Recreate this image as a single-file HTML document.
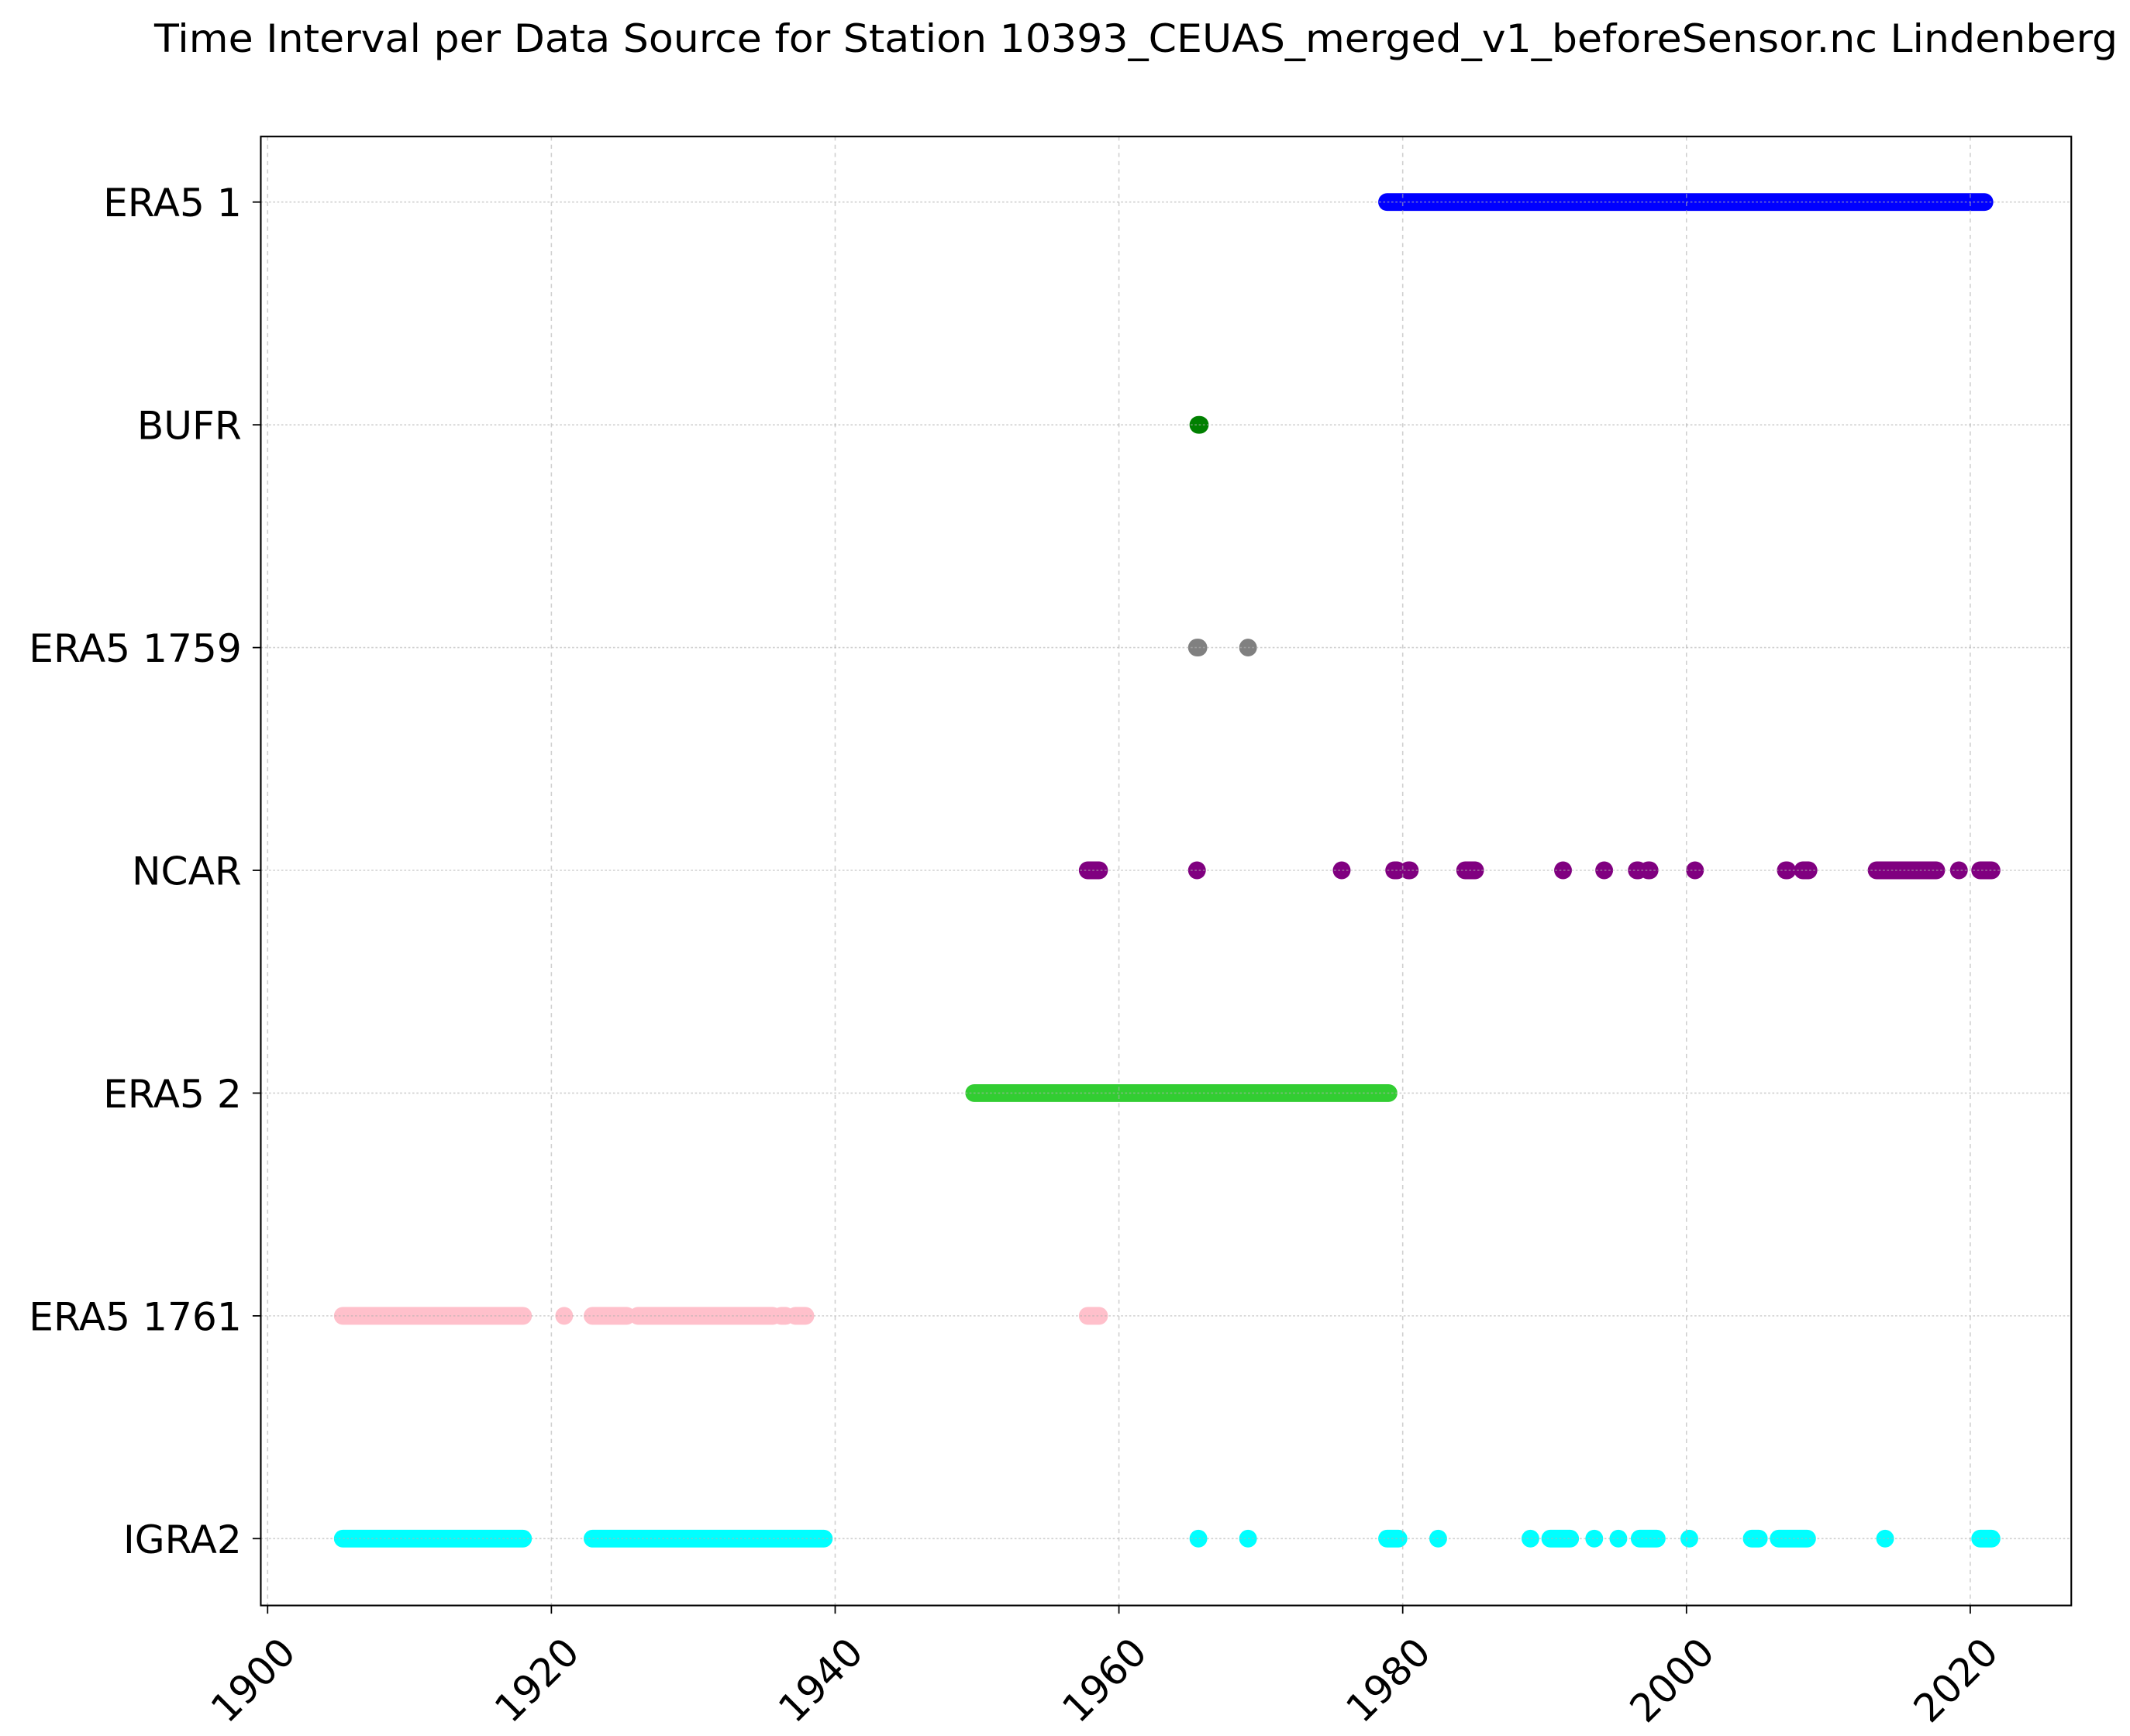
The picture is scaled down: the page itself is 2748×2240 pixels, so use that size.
<!DOCTYPE html>
<html><head><meta charset="utf-8"><style>
html,body{margin:0;padding:0;background:#fff;}
svg{display:block;font-family:"DejaVu Sans","Liberation Sans",sans-serif;}
</style></head><body>
<svg id="chart" width="2748" height="2240" viewBox="0 0 1560 1271.6" xmlns="http://www.w3.org/2000/svg">
<rect width="1560" height="1271.6" fill="#fff"/>
<text x="832" y="38" font-size="28.5" text-anchor="middle" fill="#000" textLength="1438" lengthAdjust="spacingAndGlyphs">Time Interval per Data Source for Station 10393_CEUAS_merged_v1_beforeSensor.nc Lindenberg</text>
<g id="marks"></g>
<g id="grid"></g>
<rect x="191" y="100" width="1326" height="1076" fill="none" stroke="#000" stroke-width="1.2"/>
<g id="axes"></g>
</svg>
<script>
const categories = ["ERA5 1","BUFR","ERA5 1759","NCAR","ERA5 2","ERA5 1761","IGRA2"];
const colors = ["#0000ff","#008000","#808080","#800080","#32cd32","#ffc0cb","#00ffff"];
const xTicks = [1900,1920,1940,1960,1980,2000,2020];
const era5_1 = [[1978.9,2021.0]];
const bufr = [[1965.6,1965.7]];
const era5_1759 = [[1965.5,1965.6],[1969.1,1969.1]];
const ncar = [[1957.8,1958.6],[1965.5,1965.5],[1975.7,1975.7],[1979.4,1979.6],[1980.4,1980.5],[1984.4,1985.1],[1991.3,1991.3],[1994.2,1994.2],[1996.5,1996.6],[1997.3,1997.4],[2000.6,2000.6],[2007.0,2007.1],[2008.2,2008.6],[2013.4,2017.6],[2019.2,2019.2],[2020.7,2021.5]];
const era5_2 = [[1949.8,1979.0]];
const era5_1761 = [[1905.3,1918.0],[1920.9,1920.9],[1922.9,1925.3],[1926.1,1935.6],[1936.2,1936.5],[1937.2,1937.9],[1957.8,1958.6]];
const igra2 = [[1905.3,1918.0],[1922.9,1939.2],[1965.6,1965.6],[1969.1,1969.1],[1978.9,1979.7],[1982.5,1982.5],[1989.0,1989.0],[1990.4,1991.8],[1993.5,1993.5],[1995.2,1995.2],[1996.7,1997.9],[2000.2,2000.2],[2004.6,2005.1],[2006.5,2008.5],[2014.0,2014.0],[2020.7,2021.5]];
const seriesData = [era5_1,bufr,era5_1759,ncar,era5_2,era5_1761,igra2];

const NS="http://www.w3.org/2000/svg";
function xScale(v){return 196 + (v-1900)*(1443-196)/120;}
function yScale(i){return 148 + i*163.17;}
function mk(tag,attrs,parent){const e=document.createElementNS(NS,tag);for(const k in attrs)e.setAttribute(k,attrs[k]);parent.appendChild(e);return e;}
const marks=document.getElementById('marks'),grid=document.getElementById('grid'),axes=document.getElementById('axes');
seriesData.forEach((segs,i)=>{
  const g=mk('g',{},marks);
  
  
  segs.forEach(s=>{
    const y=yScale(i);
    const l=mk('line',{x1:xScale(s[0]),x2:xScale(s[1]),y1:y,y2:y,stroke:colors[i],'stroke-width':13,'stroke-linecap':'round'},g);
    
    
  });
});
xTicks.forEach(t=>{
  const x=xScale(t);
  const gl=mk('line',{x1:x,x2:x,y1:100,y2:1176,stroke:'#b0b0b0','stroke-opacity':0.6,'stroke-width':0.9,'stroke-dasharray':'3 3'},grid);
  
  
  const tk=mk('line',{x1:x,x2:x,y1:1176,y2:1182,stroke:'#000','stroke-width':1},axes);
  
  
  const ax=x+22, ay=1212;
  const tx=mk('text',{x:ax,y:ay,'font-size':28.5,'text-anchor':'end',transform:`rotate(-45 ${ax} ${ay})`,fill:'#000'},axes);
  
  
  tx.textContent=t;
});
categories.forEach((c,i)=>{
  const y=yScale(i);
  const gl=mk('line',{x1:191,x2:1517,y1:y,y2:y,stroke:'#b0b0b0','stroke-opacity':0.6,'stroke-width':0.9,'stroke-dasharray':'1.5 1.5'},grid);
  
  
  const tk=mk('line',{x1:185,x2:191,y1:y,y2:y,stroke:'#000','stroke-width':1},axes);
  
  
  const tx=mk('text',{x:177,y:y+10.5,'font-size':28.5,'text-anchor':'end',fill:'#000'},axes);
  
  
  tx.textContent=c;
});
</script>
</body></html>
